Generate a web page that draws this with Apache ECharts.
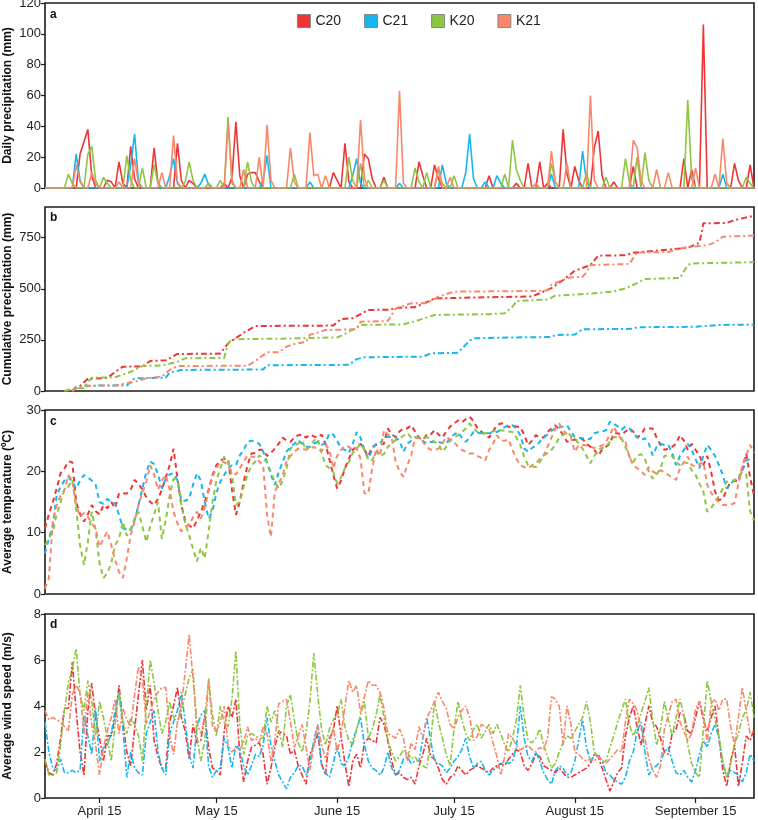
<!DOCTYPE html>
<html>
<head>
<meta charset="utf-8">
<script src="https://cdn.jsdelivr.net/npm/echarts@6/dist/echarts.min.js"></script>
<style>
  html, body { margin: 0; padding: 0; background: #fff; }
  #chart { width: 758px; height: 820px; }
</style>
</head>
<body>
<div id="chart"></div>
<script>
// x axis: every day from April 1 to September 30, ticks on the 15th
const monthNames = ['April', 'May', 'June', 'July', 'August', 'September'];
const monthLengths = [30, 31, 30, 31, 31, 30];

const seriesNames = ['C20', 'C21', 'K20', 'K21'];
const colors = ['#ee3536', '#17b6ee', '#8dc640', '#f9886a'];

// a: daily precipitation (mm), rain days only as [day index, mm]
const rainC20 = [[9,22],[10,30],[11,38],[12,8],[16,5],[17,4],[19,17],[20,3],[22,27],[23,6],[28,26],[29,3],[34,29],[35,5],[37,5],[38,3],[46,3],[48,7],[49,43],[50,8],[52,9],[53,10],[54,10],[55,4],[74,10],[75,5],[77,29],[78,4],[82,22],[83,19],[84,6],[87,7],[96,17],[97,8],[100,15],[101,6],[114,8],[121,3],[124,16],[127,17],[129,3],[133,38],[134,9],[136,14],[137,5],[141,26],[142,37],[143,8],[146,4],[151,14],[164,19],[166,12],[169,106],[177,16],[178,5],[181,15]];
const rainC21 = [[8,22],[9,5],[22,15],[23,35],[24,4],[32,8],[33,19],[34,3],[40,3],[41,9],[42,2],[56,5],[57,21],[68,4],[79,8],[80,19],[81,3],[91,3],[102,15],[103,3],[108,10],[109,35],[110,6],[113,4],[116,8],[117,3],[130,9],[138,24],[139,4],[174,9]];
const rainK20 = [[6,9],[7,3],[11,22],[12,27],[13,5],[15,7],[16,3],[21,21],[22,5],[25,13],[28,15],[29,3],[36,4],[37,17],[38,5],[42,3],[45,5],[47,46],[48,3],[52,17],[53,4],[64,9],[78,20],[79,5],[81,16],[83,5],[87,5],[95,13],[96,4],[98,10],[101,12],[102,3],[105,8],[118,9],[120,31],[121,12],[122,5],[130,16],[131,4],[139,10],[144,7],[149,19],[150,4],[152,20],[154,23],[155,5],[165,57],[166,6],[180,7],[181,3]];
const rainK21 = [[8,15],[9,4],[12,10],[13,3],[19,4],[23,19],[24,3],[30,10],[33,34],[34,4],[47,42],[48,5],[51,12],[55,20],[57,41],[58,5],[63,26],[64,4],[68,36],[69,8],[70,9],[72,8],[81,44],[82,6],[91,63],[92,3],[101,14],[104,7],[126,3],[130,24],[131,4],[134,16],[140,60],[141,5],[151,31],[152,26],[153,5],[157,12],[160,10],[167,13],[172,9],[174,32],[175,3]];

// b: cumulative precipitation (mm) read at its break points, [day index, mm]
const cumC20 = [[7,0],[9,25],[11,60],[16,64],[18,93],[20,119],[25,120],[27,147],[31,150],[34,181],[45,183],[47,233],[51,285],[54,318],[74,320],[76,352],[79,356],[83,396],[88,398],[91,407],[95,410],[98,435],[100,453],[117,460],[125,462],[130,503],[133,543],[136,588],[140,616],[142,662],[149,664],[151,676],[165,700],[168,725],[169,820],[175,822],[177,836],[182,857]];
const cumC21 = [[7,0],[8,21],[10,26],[21,27],[23,62],[31,65],[32,90],[35,103],[56,105],[57,126],[78,128],[80,156],[82,165],[97,168],[99,184],[106,187],[109,246],[110,258],[121,262],[130,264],[131,274],[136,276],[138,302],[151,304],[152,312],[167,314],[173,323],[182,325]];
const cumK20 = [[5,0],[7,12],[10,14],[11,45],[12,65],[18,67],[22,94],[25,122],[30,125],[34,143],[36,160],[46,162],[47,233],[48,253],[60,256],[75,262],[77,279],[79,300],[81,323],[92,326],[96,347],[100,372],[114,376],[118,380],[120,412],[121,440],[129,447],[131,466],[140,476],[146,487],[149,502],[152,528],[154,548],[163,553],[165,616],[166,624],[182,630]];
const cumK21 = [[7,0],[8,15],[10,22],[12,26],[18,27],[23,45],[26,62],[30,70],[32,103],[34,122],[52,124],[54,147],[57,189],[60,190],[62,217],[64,230],[67,240],[68,275],[72,298],[80,302],[81,339],[88,342],[90,404],[94,429],[98,430],[101,461],[105,486],[125,489],[129,492],[130,520],[133,543],[135,556],[138,558],[139,580],[140,616],[150,621],[151,650],[152,677],[160,680],[164,701],[170,714],[172,726],[174,755],[182,760]];

// c: average temperature (ºC), one value per day
const tempC20 = [
  10.7,13,15,17.2,19.7,20.5,21.6,21.5,15,13,
  11.8,13,14.5,13.5,13,14.5,14,15,14,16.4,
  16.4,16.4,17,18.6,18,17,15.8,15,14.5,15.5,
  17,19,21,23.7,18.8,14.5,12,11.2,10.7,12,
  13.4,15,17,19.4,21,21.8,22,22,17,12.9,
  15,18.3,21,22.9,23,23.5,23.5,22.5,23,23.7,
  24.5,25.5,25,24.8,25.5,25.9,26,25.5,26,25.7,
  25.5,26,24.5,22,19.4,17.2,18.5,20.5,22,23.5,
  24,24.5,23.5,22.5,24,24.3,24.3,24.5,27,26,
  25.6,26.5,27,27,27.5,26.5,25.5,25.1,26,26,
  26.7,26,25.5,26.5,27.3,27.8,28.3,28,28.5,28.9,
  28.2,27,26.5,26,25.5,26.5,27.5,27.8,27.8,27.2,
  27.5,27.3,27.2,26,24.3,25,25.9,25.5,25.5,26.4,
  27,27.5,26.8,26,24.8,25,25.2,25,25.3,24.5,
  24,23.5,22.6,23.5,24,24.5,26.2,26.2,26,26.5,
  27,26.5,25.5,26,27,27,27,25.5,24.3,23.5,
  23.7,24,24.5,25.9,25,23.5,24.5,23.5,22.6,21,
  22.5,19.9,16.7,15.3,15.5,17,18.3,18.5,18.3,20.5,
  22.9,19,16.1
];
const tempC21 = [
  6.6,9,11.2,16.1,17.5,18.5,19.1,18.3,17.2,18.5,
  19.4,19,18.5,17.8,15,14.7,15.5,15,14.8,12.9,
  10.7,10.5,10.4,12,14.5,17.2,19.9,21.6,21.2,19.5,
  17.2,18.8,19.5,19.7,18.5,15.3,15.2,15.5,17.8,19.7,
  18.5,15,12.3,13.5,16.5,18.3,19.4,20.5,21,21,
  22.6,23.5,24.8,25,24.8,24.5,23.2,21.5,19.4,17.8,
  19.9,21.5,23.2,24,24.5,25.1,24.5,24,24,24.5,
  24.8,24.3,24.6,26.2,26,25,23.7,23.5,23,24.5,
  26.4,25.5,23.5,22.1,23.5,24.5,24.5,25.6,25.6,25.6,
  25.5,25,23.2,24.5,25,25.5,25.6,25,24.5,24.8,
  24.8,24.8,24.6,24.5,25.5,26,26.4,25.5,24.8,25.5,
  26.4,26.3,26.2,26.2,26.2,26.3,26.4,26.8,27.2,27.5,
  27.5,27,25.9,23.7,23.2,23.8,24.2,24.8,25.5,26,
  26.6,27,27.2,27.3,27.5,26.5,25.6,25.5,25.4,25.2,
  25.3,26.2,26.4,26.5,26.7,28.1,27.8,27.3,26.8,27.3,
  27,26.2,25.6,25.1,25.4,24.5,22.6,24,24.5,24.3,
  24.3,23,21,22.5,23.5,24.5,23.5,22,20.5,22.5,
  24.3,23.5,22.5,21,19.4,17.2,18,18.5,18.8,20,
  21.8,22,21.8
];
const tempK20 = [
  8,9,10.2,13,15,17,17.5,18.6,14,8,
  4.7,8.5,13.4,10.5,5,2.6,3.4,5,8,9,
  11.8,9.5,10.7,12.3,13.4,11,8.5,11,13,15,
  9,12,16,18.8,18.5,14.5,11.5,9.6,7.4,5.3,
  7.5,5.8,10.2,15,18.5,20.5,22.4,21.5,19.4,14.5,
  15,17.5,19.5,21,21.6,22.6,22,21.5,19.9,18.3,
  17.2,18.5,20.5,23.7,24.2,24.5,25,23.5,24,25,
  25.4,23,21,20.5,19.9,18,19,20.5,21.5,23,
  23.7,24.5,23.5,21.8,21.8,23.2,22.5,22.8,24,24.5,
  25.1,25.3,25.8,26.2,25.5,25.4,25.5,25.4,25.6,25.2,
  24.8,24.5,23.2,24,25,25.5,25.9,26.4,27,27.8,
  27,26.4,26.2,26.2,26.3,26.5,26.7,26.7,26.6,26.5,
  26.4,25.5,24.3,22.4,21,20.8,20.7,21.5,22.6,23,
  23.5,24.3,25.5,26,26.4,25.8,25.4,24.5,23.7,22.5,
  21.3,22.5,23.5,23.8,24,24.8,25.6,25.5,25.4,24,
  22.4,21.5,22.5,22.8,22,20,18.8,19.5,20.5,22.5,
  22.6,22.5,21.5,21,21.5,21.3,20.2,19.4,18,16.7,
  13.4,14,15,16,17.2,18.3,18.5,18.5,19.2,19.9,
  19.5,13.5,12
];
const tempK21 = [
  0.9,2.6,11.8,14.5,16,17,19.4,18.5,14.5,12.6,
  13.2,12.6,11.5,10.7,7.7,9,10.2,8,5.5,3.6,
  2.6,5.8,9.6,11.8,14.5,16.5,18.3,21,19.5,17,
  18.5,19.4,17,13.4,11.5,10.2,11,11.2,12.5,13.4,
  12.3,14,16.7,19.1,20.5,21.6,21.5,21,19.8,19.5,
  20.5,21.6,22.6,22.4,22.3,21.6,21,12.9,9.3,16.7,
  18,19.4,21.6,22.5,23.2,23.7,23.7,23.5,23.7,24,
  23.5,23.3,24.3,23.5,20.5,22.5,23.5,24.2,24,23.5,
  23.8,22,16.4,16.4,20.5,23.7,22.5,26.7,26,25.5,
  21.6,20,19.1,21,22.6,25.6,25.4,24.8,24,23.5,
  23.5,23.7,24.5,25.6,25.2,24.8,24,23.5,23.2,22.9,
  22.9,22.5,22.2,21.8,23.5,24.5,25.9,25,25,25.2,
  23.5,22.1,21,20.7,20.5,21,21.3,22,22.6,24,
  25.5,27,27.8,26.8,26,25.6,23.2,24.3,24.3,24.2,
  24,23.8,24,24.2,24.8,26,27.3,26,25.2,24.8,
  22.4,21,20.5,20,19.4,20.7,20,19.6,20.2,19.8,
  19.4,19,18.6,20.5,21.5,22.4,21,20.8,21.2,21.5,
  17.8,16.5,15.6,15,14.5,14.5,14.6,14.8,18,21,
  22.6,24.3,23
];

// d: average wind speed (m/s), one value per day
const windC20 = [
  1.6,1.1,1,1.5,2.6,3.9,3.9,5.9,3.8,2,
  1,3.8,5,3.5,2.6,1.6,2.7,2.7,3.5,4.9,
  3.3,2,1.4,3,4.5,6,3.8,4.9,2.5,1.8,
  1.3,1.3,3.3,4,4.8,3.5,2.9,1.7,3.2,2.4,
  2.5,3.6,2.2,1.3,1.2,1,2.9,4,3.5,4.3,
  1.9,0.7,1.6,2.2,2.3,2.4,1.9,0.6,1.3,2.2,
  2.9,2.8,2.7,1.9,2.1,1.4,1,0.6,1.9,2.3,
  2.8,1.5,1,2.6,2.9,4,2.7,1.5,0.5,1.6,
  1.9,1.3,2.4,2.6,2.5,2.4,3.5,3.2,2.5,1.6,
  1,1.1,0.9,0.8,0.9,0.6,1.4,1.9,2.6,1.8,
  1.7,1.3,0.8,0.6,0.9,1,1.4,1.2,1,1.2,
  1.3,1.4,1.3,1.2,1.1,1.3,1.4,1.5,1.4,1.7,
  1.9,2.1,2,1.4,1.2,1.5,1.9,1.8,1.4,1.3,
  1.2,1.1,1.3,1.1,0.9,0.9,1,1.1,1.2,1.3,
  1.5,1.9,1.8,1.3,0.8,0.3,0.7,1.1,1.3,2.7,
  3.5,4,3.1,2.3,3.2,4,3.3,3.1,2.6,2,
  1.9,2.8,3,3.7,3.6,2.9,2.8,3.5,4.2,3.4,
  2.9,3.5,4,2.6,1.2,0.5,1.6,2.3,0.5,1.5,
  2.7,2.5,3
];
const windC21 = [
  3.3,2,1.3,1.2,1.7,1.1,1.1,1.2,1.1,1.2,
  3.6,2.7,1.9,3.9,1.6,2.2,2.3,2.8,3.8,4.6,
  3,0.9,2,1.3,1.1,1,2.8,3.3,3.8,2,
  1.3,1,2.8,3.3,3.8,4.6,3.3,1.9,1.3,3.1,
  3.6,3.8,1.4,0.9,1.2,1.3,2.6,2.2,1.3,2.3,
  2.1,1.4,1,1.4,1.9,1.8,2.3,3.5,2.3,1.6,
  1,0.7,0.4,0.9,1.1,1.4,1.4,1,1.5,2.5,
  3.2,1.4,1.1,0.9,1.5,2.3,1.5,1.4,1.8,2.5,
  3,3.5,2.3,1.6,1.3,1.2,1,1.3,2,1.3,
  1,1.2,1.7,1.8,1.5,1.6,1.6,2.6,3.5,2.5,
  1.6,1.5,1.4,1.1,1.3,1.6,1.8,2.1,2.6,1.8,
  1.3,1.5,1.6,1.2,1,1.2,1.3,1.5,1.6,1.5,
  1.6,2.2,4,2.6,1.8,1.6,2,1.6,1.1,0.8,
  0.6,1.2,1.4,1.3,1,1.1,1.6,2.5,3.4,2.2,
  1.6,1.8,1.9,1.6,1.1,1,0.8,0.7,0.6,0.9,
  1.6,2,2.9,3.3,2,1,1.3,1.4,1.6,2,
  2.2,1.6,1.1,1,1.2,0.9,0.7,1.2,1.9,2.5,
  2.2,2.8,3.2,2.6,1.5,0.9,1.2,1.1,1,0.7,
  1.1,1.9,1.6
];
const windK20 = [
  1.7,1,1,1.1,2.3,3.8,5,5.6,6.5,4.5,
  3.8,5.1,4.2,2.7,4.2,3.5,2.6,1.6,3.2,4.6,
  3.3,2.8,3.5,3.2,2.7,1.6,4,6,5,3.8,
  2.8,3.3,4.2,3.5,3.3,3.8,4.5,5.2,5.6,2.7,
  1.6,2.5,5.2,3.6,2.7,4,3.3,3.1,4.3,6.4,
  3.2,1.9,2.7,2.8,2.7,2.6,2.6,4,3.3,3.8,
  3,2.2,4,4.5,3.4,2.4,2,2.8,4.2,6.3,
  4.5,3,2.3,3,3.4,3.6,4.3,3.1,2.5,2.3,
  3,3.6,4.2,2.6,3,3.6,4.5,3.5,2.5,2,
  1.6,1.8,2.1,2,1.7,1.8,1.5,1.4,1.3,2.5,
  4.2,3.3,2.6,1.9,1.4,3,4.2,3.4,2.8,2.5,
  3,3.2,2.6,2.9,3.2,2.8,3.2,2.8,2.3,2,
  2.6,3.4,4.9,3.5,2.5,2.4,2.6,3,2.3,1.8,
  1.3,1.5,2,2.4,2.7,2.6,2.9,3.2,3.5,4.2,
  3.3,2,1.8,1.6,1.6,2.2,2.7,3.3,3.8,4.3,
  3.2,2.7,3.1,3.7,4.2,4.8,3.4,2.3,3,4.2,
  3.4,2.7,3.5,4.3,3.6,2.3,1.5,1.1,0.9,3,
  5.1,4.2,3.4,2.7,1.6,0.9,1.5,2.3,2.8,3.5,
  3.8,4.6,3.5
];
const windK21 = [
  3.8,3.4,3.5,3.4,3.3,3.1,2.9,4.5,4.9,4.6,
  2.8,4.6,3.2,2.3,1,2.2,2.9,3.5,4.3,2.8,
  3.9,3.4,3.1,4.5,5.7,5.2,3.2,3.8,4.3,4.6,
  4.8,4.8,2.7,1.9,3.3,4,5.5,7.1,5.2,3.3,
  2.8,3.5,5.1,3.1,2.9,3.3,4,2.3,2,2.2,
  2.1,2.4,3.1,2.5,2.6,2.4,3.1,2.8,1.6,2.5,
  4.1,4.2,4.3,3.3,2.2,2.7,3.2,2.2,1.2,2.3,
  3.2,2.3,1.7,2.3,3.1,2,2.7,4,5.1,4.6,
  4.9,3.7,4.4,5.1,4.9,4.9,4.6,3.9,2.8,2.7,
  2.6,3,2.6,1.6,2.4,2.1,3.1,2.6,3.5,3.8,
  4.2,4.6,4.2,3.9,3.2,3,3.5,3.8,4,3.5,
  2.5,2.7,3.2,3.1,3,2.4,1.8,1,1.8,2.8,
  2.6,2.3,2.1,2.2,2.3,2.1,2,2.2,2.1,2.6,
  4.4,4.3,4,2.3,4,3.2,2,1.9,1.7,1.6,
  1.7,1.6,1.8,1.6,1.5,1.7,1.9,2.1,2,3.3,
  4.3,4.1,3.8,3,2.6,1.7,1.2,0.9,1.4,3,
  3.6,4.2,4.3,3.3,2.9,2.5,2.8,3.9,4.2,3.6,
  2.4,4.1,4.3,3.8,4.3,4.3,3.1,2.3,3.5,4.8,
  3.8,2.8,2.9
];

// category labels, one per day
const days = [];
monthNames.forEach((m, i) => {
  for (let d = 1; d <= monthLengths[i]; d++) days.push(m + ' ' + d);
});

function dailyFromEvents(events) {
  const arr = days.map(() => 0);
  events.forEach(e => { arr[e[0]] = e[1]; });
  return arr;
}

const rainData = [rainC20, rainC21, rainK20, rainK21].map(dailyFromEvents);
const cumData = [cumC20, cumC21, cumK20, cumK21];
const tempData = [tempC20, tempC21, tempK20, tempK21];
const windData = [windC20, windC21, windK20, windK21];

const font = 'Liberation Sans, Arial, Helvetica, sans-serif';
const isTick = (idx, val) => val.endsWith(' 15');

// panel boxes
const grids = [
  { left: 45, right: 4, top: 3, height: 185 },
  { left: 45, right: 4, top: 207, height: 184 },
  { left: 45, right: 4, top: 410, height: 184 },
  { left: 45, right: 4, top: 614, height: 184 }
].map(g => Object.assign(g, {
  show: true, borderColor: '#1c1c1c', borderWidth: 1.6, backgroundColor: 'transparent',
  containLabel: false, outerBoundsMode: 'none'
}));

const xAxes = grids.map((g, i) => ({
  type: 'category',
  gridIndex: i,
  data: days,
  boundaryGap: false,
  axisLine: { show: false },
  axisTick: { show: i === 3, interval: isTick, length: 5, lineStyle: { color: '#1c1c1c', width: 1.2 } },
  axisLabel: { show: i === 3, interval: isTick, color: '#222', fontSize: 13, fontFamily: font, margin: 7 },
  splitLine: { show: false }
}));

const yCommon = {
  type: 'value',
  nameLocation: 'middle',
  nameGap: 31,
  nameMoveOverlap: false,
  nameTextStyle: { fontWeight: 'bold', fontSize: 12, color: '#111', fontFamily: font },
  axisLine: { show: false },
  axisTick: { show: true, length: 4, lineStyle: { color: '#1c1c1c', width: 1.2 } },
  axisLabel: { color: '#222', fontSize: 13, fontFamily: font, margin: 4 },
  splitLine: { show: false }
};
const yAxes = [
  Object.assign({}, yCommon, { gridIndex: 0, min: 0, max: 120, interval: 20, name: 'Daily precipitation (mm)' }),
  Object.assign({}, yCommon, { gridIndex: 1, min: 0, max: 900, interval: 250, name: 'Cumulative precipitation (mm)',
    axisLabel: Object.assign({}, yCommon.axisLabel, { showMaxLabel: false }) }),
  Object.assign({}, yCommon, { gridIndex: 2, min: 0, max: 30, interval: 10, name: 'Average temperature (ºC)' }),
  Object.assign({}, yCommon, { gridIndex: 3, min: 0, max: 8, interval: 2, name: 'Average wind speed (m/s)' })
];

function makeSeries(panel, dataSets, lineType, width) {
  return dataSets.map((d, k) => ({
    name: seriesNames[k],
    type: 'line',
    xAxisIndex: panel,
    yAxisIndex: panel,
    data: d,
    symbol: 'none',
    color: colors[k],
    lineStyle: { color: colors[k], width: width, type: lineType },
    z: 3
  }));
}

const series = [].concat(
  makeSeries(0, rainData, 'solid', 1.6),
  makeSeries(1, cumData, [6, 3, 2, 3], 2),
  makeSeries(2, tempData, [5, 4], 2),
  makeSeries(3, windData, [6, 2, 2, 2], 1.6)
);

const letters = [['a', 9], ['b', 212], ['c', 416], ['d', 619]];

const chart = echarts.init(document.getElementById('chart'), null, { renderer: 'canvas' });
chart.setOption({
  animation: false,
  backgroundColor: '#fff',
  textStyle: { fontFamily: font },
  legend: {
    data: seriesNames,
    left: 292,
    top: 9,
    icon: 'rect',
    itemWidth: 13,
    itemHeight: 13,
    itemGap: 23,
    itemStyle: { borderColor: '#777', borderWidth: 0.8 },
    textStyle: { fontSize: 14, color: '#222', fontFamily: font }
  },
  grid: grids,
  xAxis: xAxes,
  yAxis: yAxes,
  series: series,
  graphic: letters.map(l => ({
    type: 'text',
    left: 50,
    top: l[1],
    style: { text: l[0], font: 'bold 12px ' + font, fill: '#111' }
  }))
});
</script>
</body>
</html>
